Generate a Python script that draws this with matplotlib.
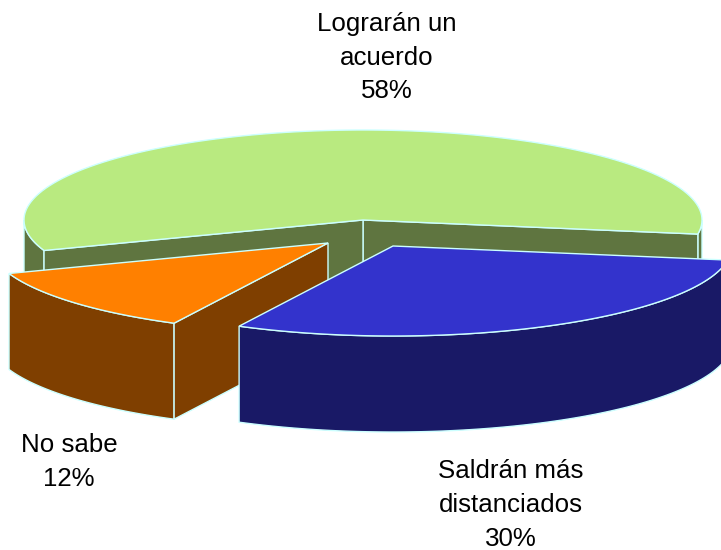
import numpy as np
import matplotlib
matplotlib.use('Agg')
import matplotlib.pyplot as plt
from matplotlib.patches import Polygon

plt.rcParams['font.family'] = ['Liberation Sans', 'DejaVu Sans']

labels = ['Lograrán un\nacuerdo\n58%', 'No sabe\n12%', 'Saldrán más\ndistanciados\n30%']
shares = [58, 12, 30]
top_colors = ['#b9ea80', '#ff8000', '#3333cc']
wall_colors = ['#5f7540', '#7f3f00', '#191966']
edge = '#ccffff'

# pie geometry, in pixels of the picture
cx, cy = 363, 220
rx, ry = 339, 90
depth = 96
start = -9
explode = [(0, 0), (-35, 23), (30, 26)]
label_pos = [(387, 58), (69, 462), (511, 505)]


def arc(t0, t1, dx=0, dy=0):
    t = np.radians(np.linspace(t0, t1, 120))
    return np.column_stack([cx + dx + rx * np.cos(t), cy + dy - ry * np.sin(t)])


def face(ax, pts, color, z):
    ax.add_patch(Polygon(pts, closed=True, facecolor=color, edgecolor=edge, lw=1.0, zorder=z))


def wall(ax, t0, t1, dx, dy, color, z):
    a = arc(t0, t1, dx, dy)
    face(ax, np.vstack([a, a[::-1] + [0, depth]]), color, z)


def cut(ax, t, dx, dy, color, z):
    a = arc(t, t, dx, dy)[0]
    c = np.array([cx + dx, cy + dy])
    face(ax, [c, a, a + [0, depth], c + [0, depth]], color, z)


fig = plt.figure(figsize=(7.21, 5.5), dpi=100)
ax = fig.add_axes([0, 0, 1, 1])
ax.set_xlim(0, 721)
ax.set_ylim(550, 0)
ax.axis('off')

angles = start + np.concatenate([[0], np.cumsum(shares)]) * 3.6

# green slice at the back, orange next, blue in front
t0, t1 = angles[0], angles[1]
wall(ax, t0, 0, 0, 0, wall_colors[0], 1)
wall(ax, 180, t1, 0, 0, wall_colors[0], 1)
cut(ax, t0, 0, 0, wall_colors[0], 2)
cut(ax, t1, 0, 0, wall_colors[0], 2)
face(ax, np.vstack([[cx, cy], arc(t0, t1)]), top_colors[0], 3)

t0, t1 = angles[1], angles[2]
dx, dy = explode[1]
wall(ax, t0, t1, dx, dy, wall_colors[1], 4)
cut(ax, t1, dx, dy, wall_colors[1], 4)
face(ax, np.vstack([[cx + dx, cy + dy], arc(t0, t1, dx, dy)]), top_colors[1], 5)

t0, t1 = angles[2], angles[3]
dx, dy = explode[2]
wall(ax, t0, t1, dx, dy, wall_colors[2], 6)
face(ax, np.vstack([[cx + dx, cy + dy], arc(t0, t1, dx, dy)]), top_colors[2], 7)

for lab, (x, y) in zip(labels, label_pos):
    ax.text(x, y, lab, ha='center', va='center', fontsize=18.6, linespacing=1.5,
            color='black', zorder=10)

fig.savefig('out.png', dpi=100)
